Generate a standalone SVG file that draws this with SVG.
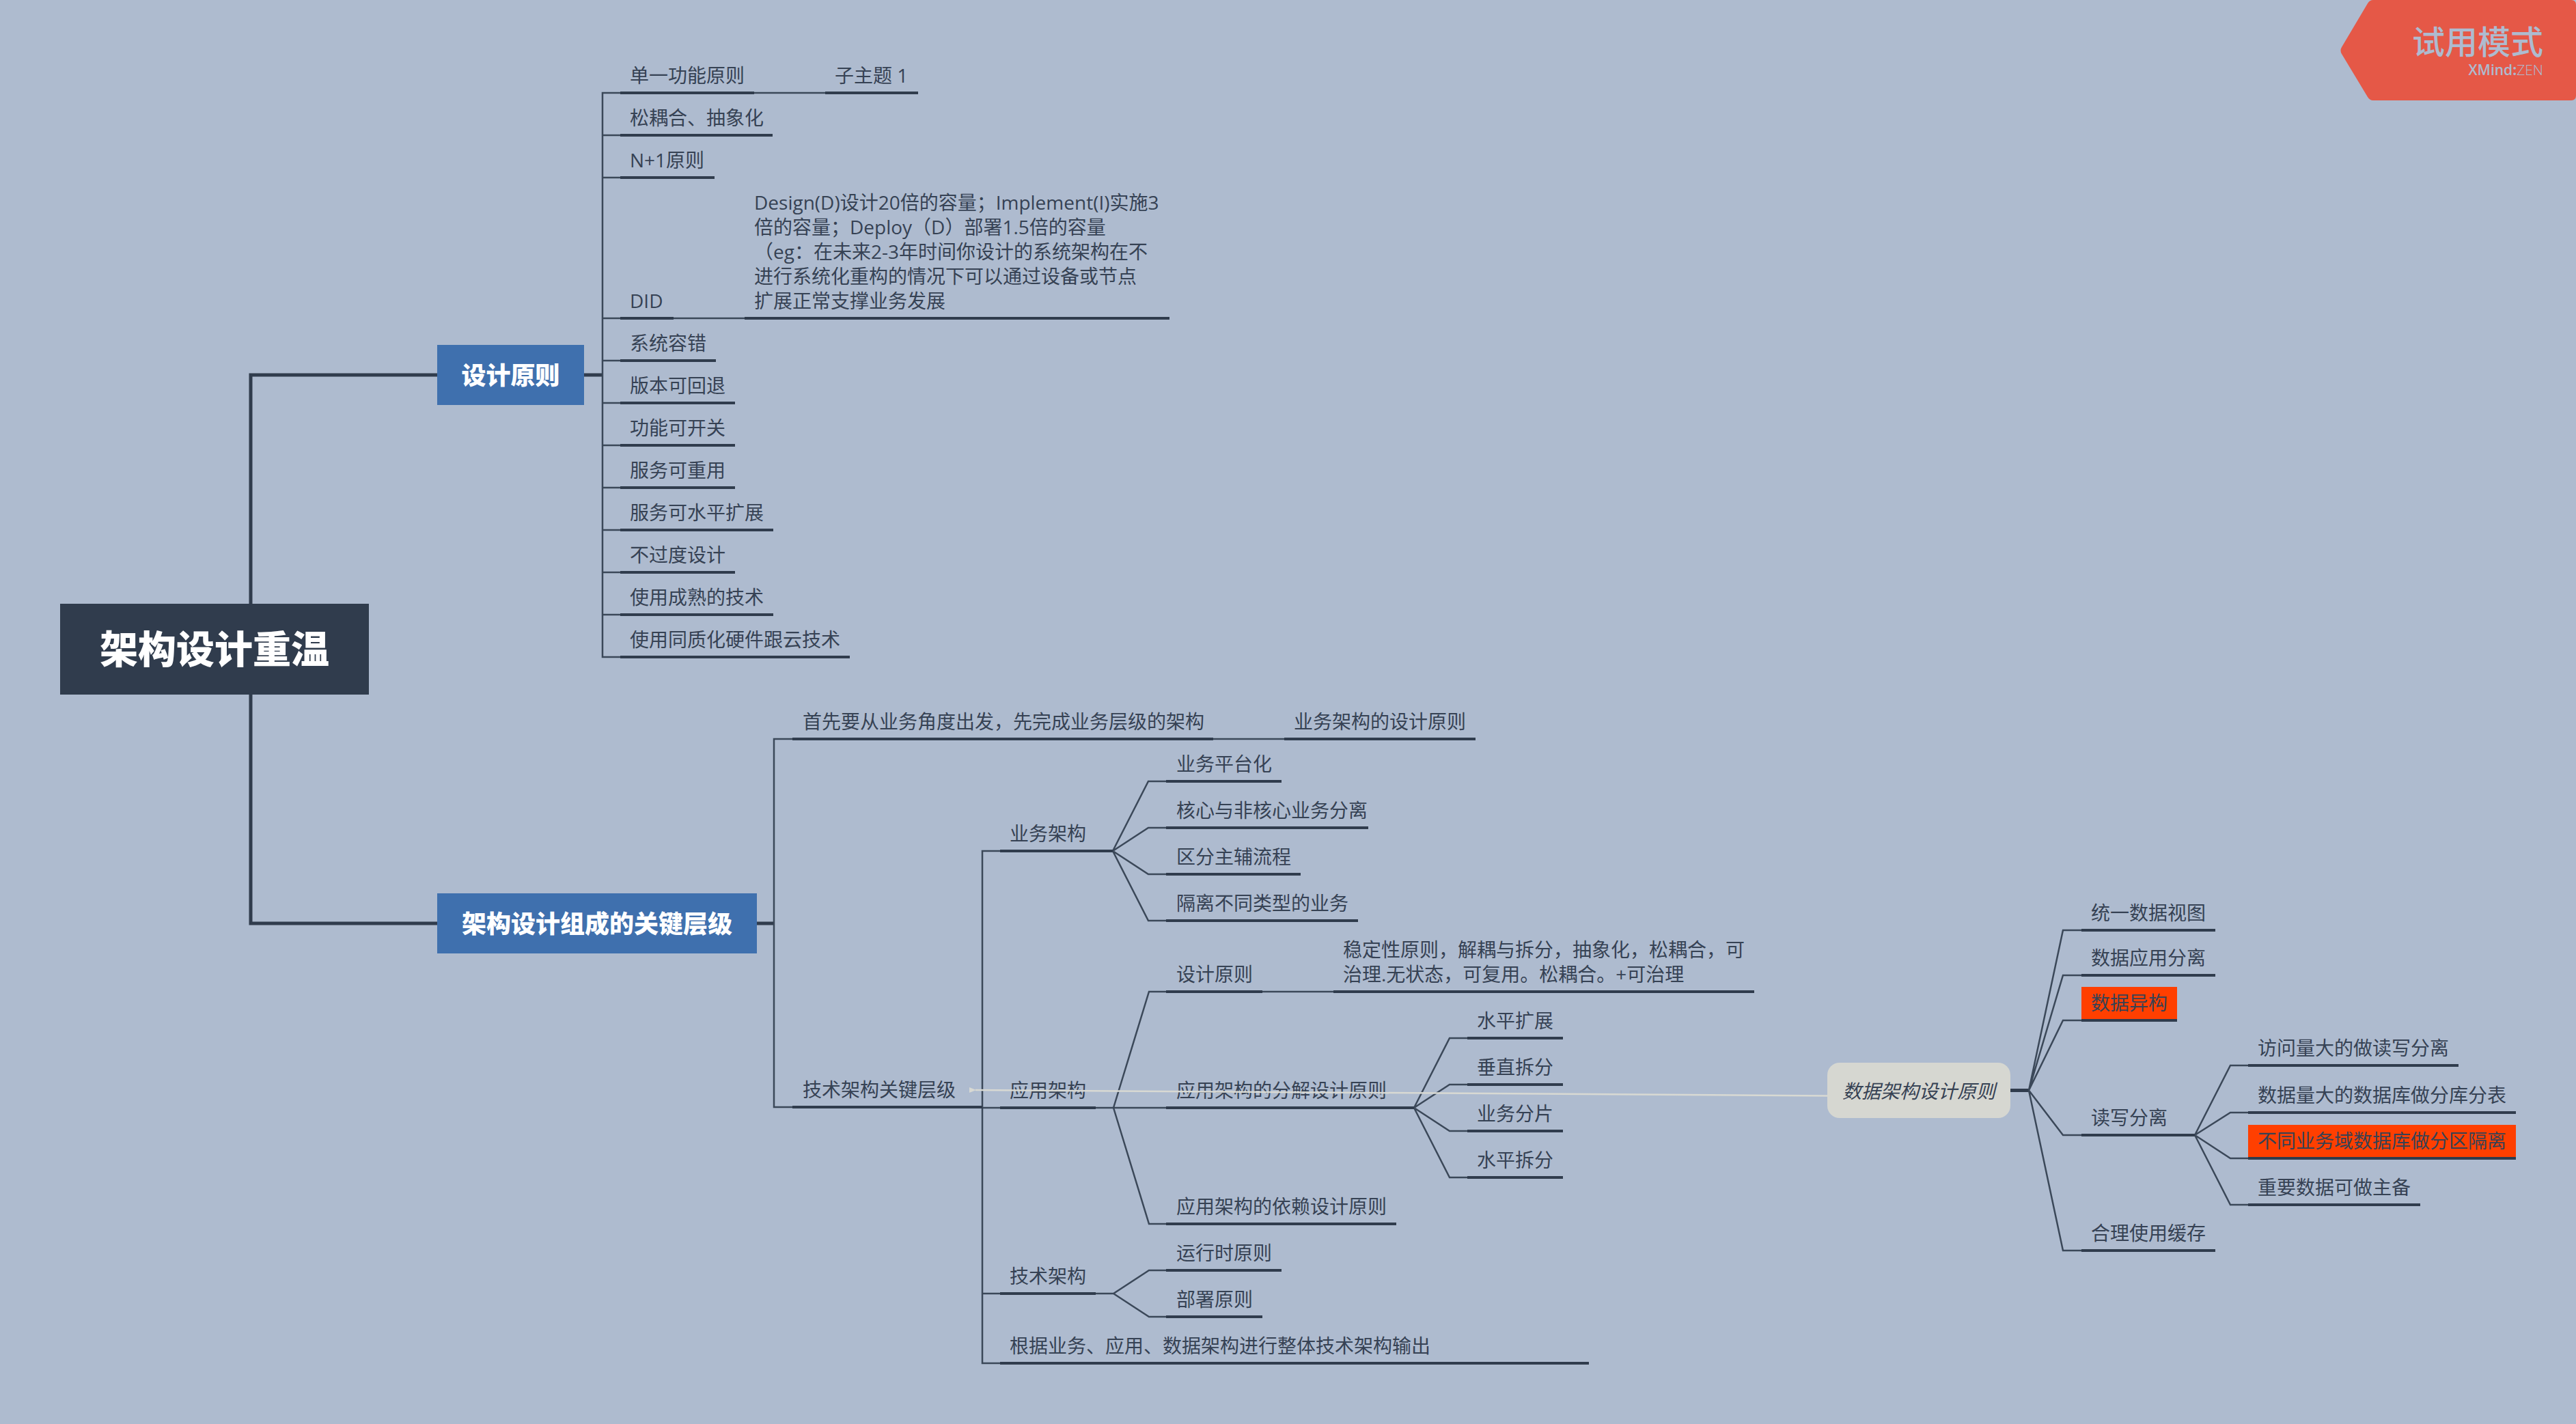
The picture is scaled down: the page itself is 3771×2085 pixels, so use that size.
<svg xmlns="http://www.w3.org/2000/svg" width="3771" height="2085" viewBox="0 0 3771 2085">
<style>
text{font-family:"Open Sans","Noto Sans CJK SC",sans-serif;font-size:28px;fill:#364254;font-weight:400}
.u{stroke:#303c4d;stroke-width:4;fill:none}
.c{stroke:#3b4859;stroke-width:2.5;fill:none}
.m{stroke:#303c4d;stroke-width:5;fill:none}
.b{font-weight:900;fill:#fff;font-size:36px;text-anchor:middle}
.red{fill:#ff3f00}
</style>
<defs><marker id="arr" markerWidth="12" markerHeight="10" refX="1" refY="4" orient="auto" markerUnits="userSpaceOnUse"><path d="M10 0L0 4L10 8Z" fill="#d8d9d3"/></marker></defs>
<rect width="3771" height="2085" fill="#aebbcf"/>
<g id="connectors">
<path class="m" d="M367 1062V549H640M367 1017V1352H640"/>
<path class="m" d="M855 549H882M1108 1352H1133"/>
<path class="c" d="M908 136H882V962H908M882 198H908M882 260H908M882 466H908M882 528H908M882 590H908M882 652H908M882 714H908M882 776H908M882 838H908M882 900H908"/>
<path class="c" d="M1104 136H1208M986 466H1090"/>
<path class="c" d="M1160 1082H1133V1621H1160M1776 1082H1880"/>
<path class="c" d="M1464 1246H1438V1996H1464M1438 1622H1464M1438 1894H1464"/>
<path class="c" d="M1629 1246L1681 1144H1707M1629 1246L1681 1212H1707M1629 1246L1681 1280H1707M1629 1246L1681 1348H1707"/>
<path class="c" d="M1604 1622H1707M1630 1622L1682 1452H1707M1630 1622L1682 1792H1707M1848 1452H1952"/>
<path class="c" d="M2070 1622L2122 1520H2148M2070 1622L2122 1588H2148M2070 1622L2122 1656H2148M2070 1622L2122 1724H2148"/>
<path class="c" d="M1604 1894H1630L1682 1860H1707M1630 1894L1682 1928H1707"/>
<path class="m" d="M2943 1596.500H2970"/>
<path class="c" d="M2970 1596.500L3020 1362H3047M2970 1596.500L3020 1428H3047M2970 1596.500L3020 1494H3047M2970 1596.500L3020 1662H3047M2970 1596.500L3020 1831H3047"/>
<path class="c" d="M3213 1662L3265 1560H3291M3213 1662L3265 1629H3291M3213 1662L3265 1696H3291M3213 1662L3265 1764H3291"/>
</g>
<g id="root"><rect x="88" y="884" width="452" height="133" fill="#303c4d"/><text class="b" x="314" y="971" style="font-size:56px">架构设计重温</text></g>
<g id="topic-design"><rect x="640" y="505" width="215" height="88" fill="#3f70ae"/><text class="b" x="747.500" y="563">设计原则</text></g>
<g id="topic-layers"><rect x="640" y="1308" width="468" height="88" fill="#3f70ae"/><text class="b" x="874" y="1366">架构设计组成的关键层级</text></g>

<g id="n1"><path class="u" d="M908 136H1104"/><text x="922" y="121">单一功能原则</text></g>
<g id="n1a"><path class="u" d="M1208 136H1344"/><text x="1222" y="121">子主题 1</text></g>
<g id="n2"><path class="u" d="M908 198H1131"/><text x="922" y="183">松耦合、抽象化</text></g>
<g id="n3"><path class="u" d="M908 260H1046"/><text x="922" y="245">N+1原则</text></g>
<g id="n4"><path class="u" d="M908 466H986"/><text x="922" y="451">DID</text></g>
<g id="n4a"><path class="u" d="M1090 466H1712"/><text x="1104" y="307">Design(D)设计20倍的容量；Implement(I)实施3</text><text x="1104" y="343">倍的容量；Deploy（D）部署1.5倍的容量</text><text x="1104" y="379">（eg：在未来2-3年时间你设计的系统架构在不</text><text x="1104" y="415">进行系统化重构的情况下可以通过设备或节点</text><text x="1104" y="451">扩展正常支撑业务发展</text></g>
<g id="n5"><path class="u" d="M908 528H1048"/><text x="922" y="513">系统容错</text></g>
<g id="n6"><path class="u" d="M908 590H1076"/><text x="922" y="575">版本可回退</text></g>
<g id="n7"><path class="u" d="M908 652H1076"/><text x="922" y="637">功能可开关</text></g>
<g id="n8"><path class="u" d="M908 714H1076"/><text x="922" y="699">服务可重用</text></g>
<g id="n9"><path class="u" d="M908 776H1132"/><text x="922" y="761">服务可水平扩展</text></g>
<g id="n10"><path class="u" d="M908 838H1076"/><text x="922" y="823">不过度设计</text></g>
<g id="n11"><path class="u" d="M908 900H1132"/><text x="922" y="885">使用成熟的技术</text></g>
<g id="n12"><path class="u" d="M908 962H1244"/><text x="922" y="947">使用同质化硬件跟云技术</text></g>

<g id="p1"><path class="u" d="M1160 1082H1776"/><text x="1175" y="1067">首先要从业务角度出发，先完成业务层级的架构</text></g>
<g id="p1a"><path class="u" d="M1880 1082H2160"/><text x="1894" y="1067">业务架构的设计原则</text></g>
<g id="p2"><path class="u" d="M1160 1621H1438"/><text x="1175" y="1606">技术架构关键层级</text></g>
<g id="biz"><path class="u" d="M1464 1246H1629"/><text x="1478" y="1231">业务架构</text></g>
<g id="biz1"><path class="u" d="M1707 1144H1876"/><text x="1722" y="1129">业务平台化</text></g>
<g id="biz2"><path class="u" d="M1707 1212H2003"/><text x="1722" y="1197">核心与非核心业务分离</text></g>
<g id="biz3"><path class="u" d="M1707 1280H1904"/><text x="1722" y="1265">区分主辅流程</text></g>
<g id="biz4"><path class="u" d="M1707 1348H1988"/><text x="1722" y="1333">隔离不同类型的业务</text></g>
<g id="app"><path class="u" d="M1464 1622H1604"/><text x="1478" y="1607">应用架构</text></g>
<g id="app1"><path class="u" d="M1707 1452H1848"/><text x="1722" y="1437">设计原则</text></g>
<g id="app1a"><path class="u" d="M1952 1452H2568"/><text x="1966" y="1401">稳定性原则，解耦与拆分，抽象化，松耦合，可</text><text x="1966" y="1437">治理.无状态，可复用。松耦合。+可治理</text></g>
<g id="app2"><path class="u" d="M1707 1622H2070"/><text x="1722" y="1607">应用架构的分解设计原则</text></g>
<g id="app2a"><path class="u" d="M2148 1520H2288"/><text x="2162" y="1505">水平扩展</text></g>
<g id="app2b"><path class="u" d="M2148 1588H2288"/><text x="2162" y="1573">垂直拆分</text></g>
<g id="app2c"><path class="u" d="M2148 1656H2288"/><text x="2162" y="1641">业务分片</text></g>
<g id="app2d"><path class="u" d="M2148 1724H2288"/><text x="2162" y="1709">水平拆分</text></g>
<g id="app3"><path class="u" d="M1707 1792H2044"/><text x="1722" y="1777">应用架构的依赖设计原则</text></g>
<g id="tech"><path class="u" d="M1464 1894H1604"/><text x="1478" y="1879">技术架构</text></g>
<g id="tech1"><path class="u" d="M1707 1860H1876"/><text x="1722" y="1845">运行时原则</text></g>
<g id="tech2"><path class="u" d="M1707 1928H1848"/><text x="1722" y="1913">部署原则</text></g>
<g id="tech3"><path class="u" d="M1464 1996H2326"/><text x="1478" y="1981">根据业务、应用、数据架构进行整体技术架构输出</text></g>

<g id="data"><rect x="2675" y="1556" width="268" height="81" rx="18" fill="#d6d7d1"/><text x="2697" y="1608" font-style="italic">数据架构设计原则</text></g>
<g id="d1"><path class="u" d="M3047 1362H3243"/><text x="3061" y="1347">统一数据视图</text></g>
<g id="d2"><path class="u" d="M3047 1428H3243"/><text x="3061" y="1413">数据应用分离</text></g>
<g id="d3"><rect class="red" x="3047" y="1445" width="140" height="49"/><path class="u" d="M3047 1494H3187"/><text x="3061" y="1479">数据异构</text></g>
<g id="d4"><path class="u" d="M3047 1662H3213"/><text x="3061" y="1647">读写分离</text></g>
<g id="d4a"><path class="u" d="M3291 1560H3599"/><text x="3305" y="1545">访问量大的做读写分离</text></g>
<g id="d4b"><path class="u" d="M3291 1629H3683"/><text x="3305" y="1614">数据量大的数据库做分库分表</text></g>
<g id="d4c"><rect class="red" x="3291" y="1647" width="392" height="49"/><path class="u" d="M3291 1696H3683"/><text x="3305" y="1681">不同业务域数据库做分区隔离</text></g>
<g id="d4d"><path class="u" d="M3291 1764H3543"/><text x="3305" y="1749">重要数据可做主备</text></g>
<g id="d5"><path class="u" d="M3047 1831H3243"/><text x="3061" y="1816">合理使用缓存</text></g>
<g id="relationship"><path d="M2675 1604.500L1428 1596" stroke="#d8d9d3" stroke-width="2.500" fill="none" marker-end="url(#arr)"/></g>

<g id="watermark"><path d="M3474 0H3764Q3771 0 3771 7V140Q3771 147 3764 147H3474Q3469 147 3466 142L3428 79Q3425 74 3428 69L3466 5Q3469 0 3474 0Z" fill="#e55847"/><text x="3723" y="79" text-anchor="end" style="font-size:48px;font-weight:500;fill:#aebbcf;font-family:'Noto Sans CJK SC',sans-serif">试用模式</text><text x="3723" y="110" text-anchor="end" style="font-size:21px;fill:#aebbcf;font-family:'Open Sans',sans-serif"><tspan font-weight="600">XMind</tspan><tspan font-weight="700">:</tspan><tspan font-weight="300">ZEN</tspan></text></g>
</svg>
